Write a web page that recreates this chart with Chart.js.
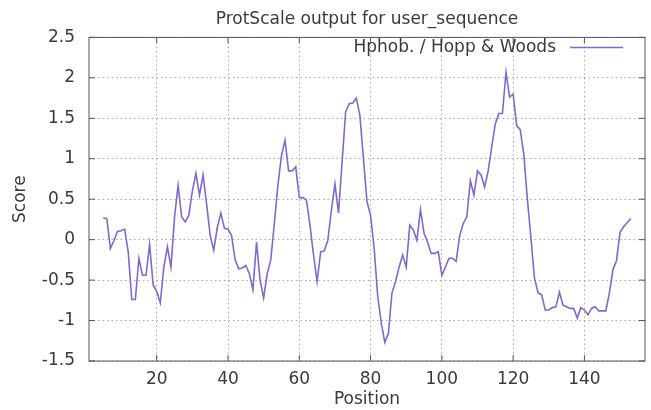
<!DOCTYPE html>
<html>
<head>
<meta charset="utf-8">
<title>ProtScale output for user_sequence</title>
<script src="https://cdn.jsdelivr.net/npm/chart.js@4.4.0/dist/chart.umd.min.js"></script>
<style>
  html, body { margin: 0; padding: 0; background: #ffffff; }
  #wrap { width: 651px; height: 410px; }
</style>
</head>
<body>
<div id="wrap"><canvas id="chart" width="651" height="410"></canvas></div>
<script>
// dati (finestra 9, posizioni 5..153)
const chartTitle = 'ProtScale output for user_sequence';
const seriesLabel = 'Hphob. / Hopp & Woods';
const positions = [
    5, 6, 7, 8, 9, 10, 11, 12, 13, 14, 15, 16, 17, 18, 19, 20, 21, 22, 23, 24,
    25, 26, 27, 28, 29, 30, 31, 32, 33, 34, 35, 36, 37, 38, 39, 40, 41, 42, 43, 44,
    45, 46, 47, 48, 49, 50, 51, 52, 53, 54, 55, 56, 57, 58, 59, 60, 61, 62, 63, 64,
    65, 66, 67, 68, 69, 70, 71, 72, 73, 74, 75, 76, 77, 78, 79, 80, 81, 82, 83, 84,
    85, 86, 87, 88, 89, 90, 91, 92, 93, 94, 95, 96, 97, 98, 99, 100, 101, 102, 103, 104,
    105, 106, 107, 108, 109, 110, 111, 112, 113, 114, 115, 116, 117, 118, 119, 120, 121, 122, 123, 124,
    125, 126, 127, 128, 129, 130, 131, 132, 133, 134, 135, 136, 137, 138, 139, 140, 141, 142, 143, 144,
    145, 146, 147, 148, 149, 150, 151, 152, 153
];
const scores = [
    0.27, 0.26, -0.11, -0.01, 0.10, 0.11, 0.13, -0.15, -0.74, -0.74,
    -0.23, -0.44, -0.44, -0.06, -0.56, -0.64, -0.78, -0.34, -0.09, -0.34,
    0.28, 0.67, 0.28, 0.22, 0.30, 0.60, 0.82, 0.55, 0.80, 0.44,
    0.05, -0.13, 0.15, 0.33, 0.14, 0.13, 0.05, -0.25, -0.36, -0.35,
    -0.32, -0.42, -0.62, -0.03, -0.50, -0.72, -0.42, -0.25, 0.20, 0.67,
    1.04, 1.23, 0.85, 0.85, 0.90, 0.52, 0.52, 0.49, 0.18, -0.19,
    -0.52, -0.15, -0.14, -0.01, 0.36, 0.69, 0.33, 0.95, 1.58, 1.68,
    1.69, 1.75, 1.54, 1.00, 0.47, 0.30, -0.10, -0.70, -1.03, -1.27,
    -1.16, -0.66, -0.52, -0.34, -0.19, -0.34, 0.18, 0.12, -0.01, 0.37,
    0.08, -0.03, -0.17, -0.17, -0.15, -0.44, -0.34, -0.23, -0.23, -0.27,
    0.05, 0.20, 0.28, 0.73, 0.55, 0.85, 0.80, 0.65, 0.85, 1.15,
    1.43, 1.56, 1.56, 2.07, 1.76, 1.80, 1.41, 1.36, 1.05, 0.50,
    0.02, -0.48, -0.66, -0.68, -0.87, -0.87, -0.84, -0.83, -0.65, -0.81,
    -0.83, -0.85, -0.85, -0.97, -0.84, -0.87, -0.93, -0.85, -0.83, -0.88,
    -0.88, -0.88, -0.66, -0.37, -0.26, 0.09, 0.16, 0.21, 0.26
];
const xTicks = [20, 40, 60, 80, 100, 120, 140];
const yTicks = [-1.5, -1, -0.5, 0, 0.5, 1, 1.5, 2, 2.5];

const textColor = '#3a3a3a';
const lineColor = '#8468c8';
const gridColor = '#a8a8a8';
const frameColor = '#555555';

Chart.defaults.font.family = "'DejaVu Sans', sans-serif";
Chart.defaults.font.size = 17;
Chart.defaults.color = textColor;

// cornice stile gnuplot con tacche interne + legenda in alto a destra
const gnuplotFrame = {
    id: 'gnuplotFrame',
    afterDraw(chart) {
        const ctx = chart.ctx;
        const a = chart.chartArea;
        const xs = chart.scales.x, ys = chart.scales.y;
        ctx.save();
        ctx.strokeStyle = frameColor;
        ctx.lineWidth = 1;
        ctx.strokeRect(a.left, a.top, a.right - a.left, a.bottom - a.top);
        ctx.beginPath();
        xTicks.forEach(v => {
            const px = xs.getPixelForValue(v);
            ctx.moveTo(px, a.bottom); ctx.lineTo(px, a.bottom - 6);
            ctx.moveTo(px, a.top); ctx.lineTo(px, a.top + 6);
        });
        yTicks.forEach(v => {
            const py = ys.getPixelForValue(v);
            ctx.moveTo(a.left, py); ctx.lineTo(a.left + 6, py);
            ctx.moveTo(a.right, py); ctx.lineTo(a.right - 6, py);
        });
        ctx.stroke();

        // legenda
        const ly = a.top + 10;
        ctx.font = "17px 'DejaVu Sans', sans-serif";
        ctx.fillStyle = textColor;
        ctx.textAlign = 'right';
        ctx.textBaseline = 'middle';
        ctx.fillText(seriesLabel, a.right - 89, ly);
        ctx.strokeStyle = lineColor;
        ctx.lineWidth = 1.5;
        ctx.beginPath();
        ctx.moveTo(a.right - 75, ly);
        ctx.lineTo(a.right - 22, ly);
        ctx.stroke();
        ctx.restore();
    }
};

new Chart(document.getElementById('chart').getContext('2d'), {
    type: 'line',
    data: {
        datasets: [{
            label: seriesLabel,
            data: positions.map((p, i) => ({ x: p, y: scores[i] })),
            borderColor: lineColor,
            borderWidth: 1.6,
            pointRadius: 0,
            tension: 0,
            fill: false
        }]
    },
    options: {
        responsive: false,
        animation: false,
        layout: { padding: { left: 0, right: 6, top: 0, bottom: 0 } },
        plugins: {
            legend: { display: false },
            tooltip: { enabled: false },
            title: {
                display: true,
                text: chartTitle,
                fullSize: false,
                color: textColor,
                font: { size: 17, weight: 'normal' },
                padding: { top: 9, bottom: 8 }
            }
        },
        scales: {
            x: {
                type: 'linear',
                min: 1,
                max: 157,
                afterBuildTicks: s => { s.ticks = xTicks.map(v => ({ value: v })); },
                afterFit: s => { s.height = 49; },
                grid: { color: gridColor, lineWidth: 1, drawTicks: false },
                border: { display: false, dash: [1.5, 3] },
                ticks: { padding: 8, color: textColor, maxRotation: 0, callback: v => String(v) },
                title: { display: true, text: 'Position', color: textColor, padding: { top: 0, bottom: 0 } }
            },
            y: {
                min: -1.5,
                max: 2.5,
                afterBuildTicks: s => { s.ticks = yTicks.map(v => ({ value: v })); },
                afterFit: s => { s.width = 89; },
                grid: { color: gridColor, lineWidth: 1, drawTicks: false },
                border: { display: false, dash: [1.5, 3] },
                ticks: { padding: 14, color: textColor, callback: v => String(v) },
                title: { display: true, text: 'Score', color: textColor, padding: { top: 10, bottom: 0 } }
            }
        }
    },
    plugins: [gnuplotFrame]
});
</script>
</body>
</html>
